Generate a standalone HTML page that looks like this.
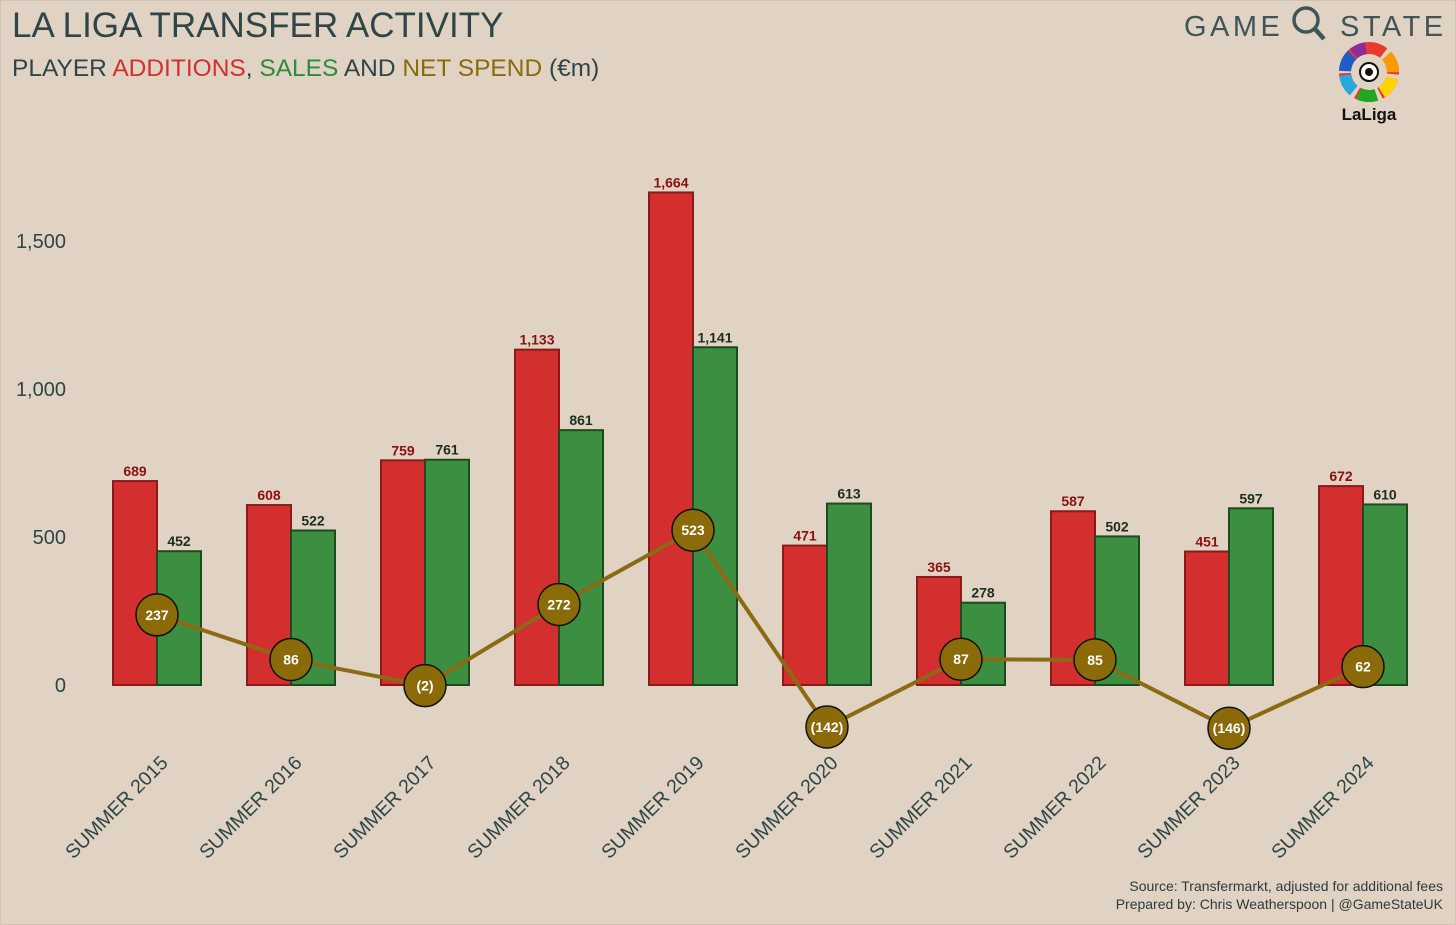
<!DOCTYPE html>
<html><head><meta charset="utf-8"><style>
body{margin:0;background:#e0d3c3;}
svg{display:block;font-family:"Liberation Sans",sans-serif;}
</style></head><body>
<svg id="c" width="1456" height="925" viewBox="0 0 1456 925">
<rect x="0.5" y="0.5" width="1455" height="924" fill="#e0d3c3" stroke="#cfc3b3"/>
<text x="12" y="37" font-size="35" fill="#2f4548">LA LIGA TRANSFER ACTIVITY</text>
<text x="12" y="76" font-size="24.5" fill="#2f4548">PLAYER <tspan fill="#d32f2f">ADDITIONS</tspan>, <tspan fill="#2e8b3a">SALES</tspan> AND <tspan fill="#8b6a0a">NET SPEND</tspan> (€m)</text>
<g>
<text x="1184" y="36" font-size="29" letter-spacing="3.5" fill="#3f5557">GAME</text>
<circle cx="1306" cy="20" r="12" fill="none" stroke="#3f5557" stroke-width="3.5"/>
<line x1="1315" y1="29" x2="1324" y2="39" stroke="#3f5557" stroke-width="4.5"/>
<text x="1340" y="36" font-size="29" letter-spacing="3.5" fill="#3f5557">STATE</text>
</g>
<g transform="translate(1369,72) rotate(-100)">
<circle r="24" fill="none" stroke="#e63b2e" stroke-width="12" stroke-dasharray="20 4" />
<circle r="24" fill="none" stroke="#ff9900" stroke-width="12" stroke-dasharray="18 133" stroke-dashoffset="-24"/>
<circle r="24" fill="none" stroke="#ffd400" stroke-width="12" stroke-dasharray="18 133" stroke-dashoffset="-48"/>
<circle r="24" fill="none" stroke="#22a722" stroke-width="12" stroke-dasharray="18 133" stroke-dashoffset="-72"/>
<circle r="24" fill="none" stroke="#29a8e0" stroke-width="12" stroke-dasharray="18 133" stroke-dashoffset="-96"/>
<circle r="24" fill="none" stroke="#1e5cc8" stroke-width="12" stroke-dasharray="18 133" stroke-dashoffset="-118"/>
<circle r="24" fill="none" stroke="#8e2a9a" stroke-width="12" stroke-dasharray="14 137" stroke-dashoffset="-138"/>
<circle r="9" fill="#fff" stroke="#111" stroke-width="2"/>
<circle r="4" fill="#111"/>
</g>
<text x="1369" y="120" font-size="17" font-weight="bold" text-anchor="middle" fill="#111">LaLiga</text>
<g id="plot"></g>
<text x="1443" y="891" font-size="14" text-anchor="end" fill="#2f3a3a">Source: Transfermarkt, adjusted for additional fees</text>
<text x="1443" y="909" font-size="14" text-anchor="end" fill="#2f3a3a">Prepared by: Chris Weatherspoon | @GameStateUK</text>
</svg>
<script>
const categories=["SUMMER 2015","SUMMER 2016","SUMMER 2017","SUMMER 2018","SUMMER 2019","SUMMER 2020","SUMMER 2021","SUMMER 2022","SUMMER 2023","SUMMER 2024"];
const additions=[689,608,759,1133,1664,471,365,587,451,672];
const sales=[452,522,761,861,1141,613,278,502,597,610];
const netSpend=[237,86,-2,272,523,-142,87,85,-146,62];
const yTicks=[0,500,1000,1500];
const yTickLabels=["0","500","1,000","1,500"];
const NS="http://www.w3.org/2000/svg";
const g=document.getElementById('plot');
const y=v=>685-v*0.296;
const xc=i=>157+i*134;
const bw=44;
const fmt=v=>v<0?"("+Math.abs(v).toLocaleString('en-US')+")":v.toLocaleString('en-US');
function mk(t,a,parent){const e=document.createElementNS(NS,t);for(const k in a)e.setAttribute(k,a[k]);(parent||g).appendChild(e);return e;}
yTicks.forEach((v,i)=>{const t=mk('text',{x:66,y:y(v)+7,'font-size':20,'text-anchor':'end',fill:'#2f4548'});t.textContent=yTickLabels[i];

});
categories.forEach((c,i)=>{
 const r=mk('rect',{x:xc(i)-bw,y:y(additions[i]),width:bw,height:y(0)-y(additions[i]),fill:'#d32f2f',stroke:'#8b1a1a','stroke-width':2});
 
 
 const s=mk('rect',{x:xc(i),y:y(sales[i]),width:bw,height:y(0)-y(sales[i]),fill:'#3c8e40',stroke:'#1d4a20','stroke-width':2});
 
 
 const ta=mk('text',{x:xc(i)-bw/2,y:y(additions[i])-5,'font-size':14,'font-weight':'bold','text-anchor':'middle',fill:'#8b1010'});ta.textContent=fmt(additions[i]);
 
 
 const ts=mk('text',{x:xc(i)+bw/2,y:y(sales[i])-5,'font-size':14,'font-weight':'bold','text-anchor':'middle',fill:'#1d2e1d'});ts.textContent=fmt(sales[i]);
 
 
 const xl=mk('text',{x:xc(i)+12,y:764,'font-size':19.5,'text-anchor':'end',fill:'#2f4548',transform:`rotate(-45 ${xc(i)+12} 764)`});xl.textContent=c;
 
 
});
const pl=mk('polyline',{points:netSpend.map((v,i)=>xc(i)+','+y(v)).join(' '),fill:'none',stroke:'#8b6a14','stroke-width':4});


netSpend.forEach((v,i)=>{
 const c=mk('circle',{cx:xc(i),cy:y(v),r:21,fill:'#8b6a0a',stroke:'#111','stroke-width':1.5});
 
 
 const t=mk('text',{x:xc(i),y:y(v)+5,'font-size':14,'font-weight':'bold','text-anchor':'middle',fill:'#fff'});t.textContent=fmt(v);
 
 
});
</script>
</body></html>
